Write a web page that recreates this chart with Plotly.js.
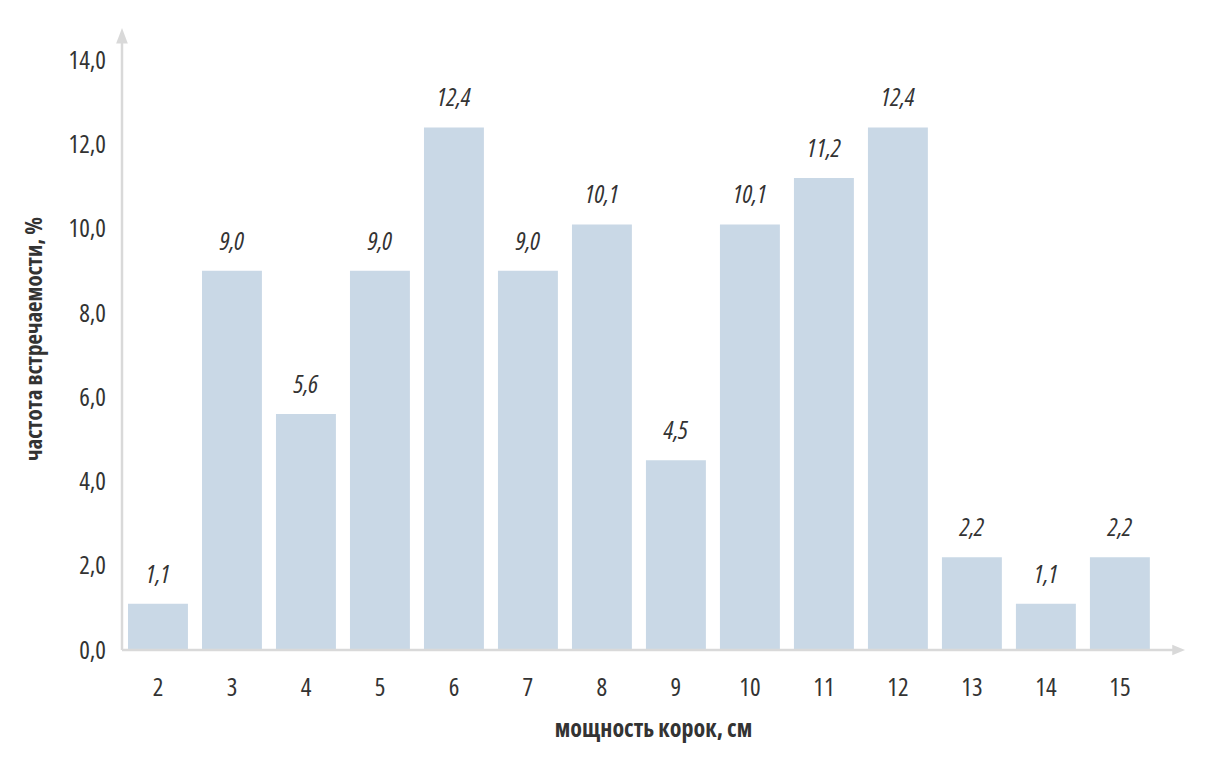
<!DOCTYPE html>
<html><head><meta charset="utf-8">
<script src="https://cdn.plot.ly/plotly-3.0.1.min.js"></script>
<style>html,body{margin:0;padding:0;background:#fff}#chart{width:1214px;height:768px}
#chart text{font-stretch:75% !important;}</style>
</head><body><div id="chart"></div>
<script>
const categories = ['2','3','4','5','6','7','8','9','10','11','12','13','14','15'];
const values = [1.1, 9.0, 5.6, 9.0, 12.4, 9.0, 10.1, 4.5, 10.1, 11.2, 12.4, 2.2, 1.1, 2.2];
const yTicks = [0, 2, 4, 6, 8, 10, 12, 14];
const xTitle = 'мощность корок, см';
const yTitle = 'частота встречаемости, %';

const FONT = '"Open Sans", "DejaVu Sans", sans-serif';
const TXT = '#333333';
const AX = '#d9d9d9';

const trace = {
  type: 'bar', x: categories, y: values,
  marker: {color: '#c9d8e6'}, hoverinfo: 'skip'
};

const annotations = categories.map((c, i) => ({
  x: i, y: values[i], xref: 'x', yref: 'y',
  text: '<i>' + values[i].toFixed(1).replace('.', ',') + '</i>',
  showarrow: false, yshift: 31,
  font: {family: FONT, size: 25, color: TXT}
}));

const layout = {
  width: 1214, height: 768,
  margin: {l: 122, r: 29, t: 28, b: 118},
  paper_bgcolor: '#fff', plot_bgcolor: '#fff',
  separators: ', ',
  bargap: 0.19,
  showlegend: false,
  font: {family: FONT, color: TXT},
  xaxis: {
    type: 'category', range: [-0.486, 13.88],
    showline: false, showgrid: false, zeroline: false, ticks: '',
    ticklabelstandoff: 20,
    tickfont: {family: FONT, size: 25, color: TXT},
    title: {text: '<b>' + xTitle + '</b>', font: {family: FONT, size: 24, color: TXT}, standoff: 18}
  },
  yaxis: {
    range: [0, 14.76], tickvals: yTicks, tickformat: '.1f',
    showline: false, showgrid: false, zeroline: false, ticks: '',
    ticklabelstandoff: 15,
    tickfont: {family: FONT, size: 25, color: TXT},
    title: {text: '<b>' + yTitle + '</b>', font: {family: FONT, size: 23, color: TXT}, standoff: 7}
  },
  shapes: [
    {type: 'line', xref: 'paper', yref: 'paper', x0: 0, x1: 0, y0: 0, y1: 0.985, line: {color: AX, width: 2.5}},
    {type: 'line', xref: 'paper', yref: 'paper', x0: 0, x1: 0.99, y0: 0, y1: 0, line: {color: AX, width: 2.5}},
    {type: 'path', xref: 'paper', yref: 'paper', path: 'M -0.0055 0.975 L 0.0055 0.975 L 0 1.0 Z', fillcolor: AX, line: {width: 0}},
    {type: 'path', xref: 'paper', yref: 'paper', path: 'M 0.988 0.0085 L 0.988 -0.0085 L 1.0 0 Z', fillcolor: AX, line: {width: 0}}
  ],
  annotations: annotations
};

Plotly.newPlot('chart', [trace], layout, {displayModeBar: false, staticPlot: true});
</script></body></html>
